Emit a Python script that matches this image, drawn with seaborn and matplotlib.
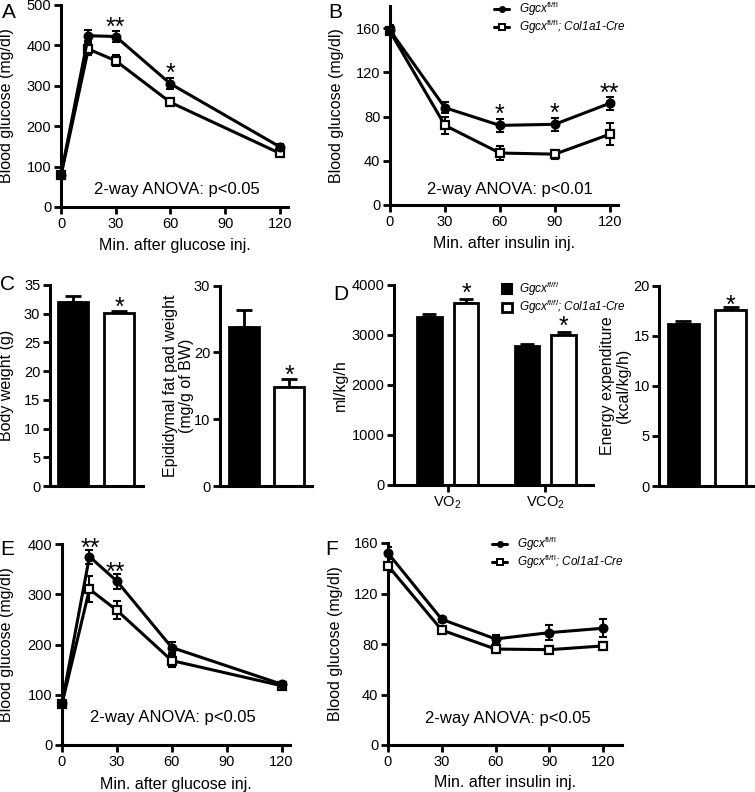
import numpy as np
import pandas as pd
import matplotlib
matplotlib.use("Agg")
import matplotlib.pyplot as plt
import seaborn as sns
from matplotlib.lines import Line2D
from matplotlib.patches import Patch

# ---------------- data ----------------
GROUPS = ["ctrl", "cre"]
t_gtt = [0, 15, 30, 60, 120]
t_itt = [0, 30, 60, 90, 120]

a_ctrl = [80, 424, 422, 305, 149]
a_ctrl_sem = [8, 14, 14, 14, 6]
a_cre = [78, 391, 362, 259, 133]
a_cre_sem = [8, 15, 14, 8, 6]

b_ctrl = [158, 88, 72, 73, 92]
b_ctrl_sem = [5, 5, 6, 6, 6]
b_cre = [157, 72, 47, 46, 64]
b_cre_sem = [5, 8, 6, 4, 10]

c_bw = [32.1, 30.1]
c_bw_sem = [0.9, 0.35]
c_fat = [23.8, 14.8]
c_fat_sem = [2.6, 1.3]

d_gas = ["VO$_2$", "VCO$_2$"]
d_vo2 = [3365, 3650]
d_vo2_sem = [60, 70]
d_vco2 = [2775, 2995]
d_vco2_sem = [45, 65]
d_ee = [16.2, 17.55]
d_ee_sem = [0.25, 0.3]

e_ctrl = [83, 375, 326, 194, 121]
e_ctrl_sem = [6, 14, 15, 10, 5]
e_cre = [82, 310, 268, 168, 118]
e_cre_sem = [6, 26, 18, 12, 5]

f_ctrl = [152, 99.5, 84, 89, 92.5]
f_ctrl_sem = [5, 2, 3, 6, 7]
f_cre = [142, 91, 76, 75.5, 78.5]
f_cre_sem = [5, 2, 3, 3, 3]

# ---------------- style ----------------
sns.set_theme(style="ticks", rc={
    "axes.edgecolor": "black", "text.color": "black", "axes.labelcolor": "black",
    "xtick.color": "black", "ytick.color": "black"})
plt.rcParams["font.family"] = ["Liberation Sans", "DejaVu Sans"]
plt.rcParams["mathtext.fontset"] = "custom"
plt.rcParams["mathtext.rm"] = "Liberation Sans"
plt.rcParams["mathtext.it"] = "Liberation Sans:italic"
plt.rcParams["mathtext.bf"] = "Liberation Sans:bold"

W, H = 755, 792
fig = plt.figure(figsize=(W / 100, H / 100), dpi=100)
fig.patch.set_facecolor("white")

BOX = {
    "A": (61, 5, 288, 207),
    "B": (390, 6, 618, 205),
    "C1": (50, 285, 143, 486),
    "C2": (220, 285.7, 312, 486),
    "D": (394, 285, 593, 485),
    "EE": (659, 285.7, 755, 486),
    "E": (62, 544, 290, 745),
    "F": (388, 543, 622, 745),
}
TICK_FS = 10.5
LAB_FS = 11.5
STAR_FS = 18


def px_axes(key):
    l, t, r, b = BOX[key]
    ax = fig.add_axes([l / W, 1 - b / H, (r - l) / W, (b - t) / H])
    ax.set_facecolor("none")
    for s in ["top", "right"]:
        ax.spines[s].set_visible(False)
    for s in ["left", "bottom"]:
        ax.spines[s].set_linewidth(2.2)
    ax.tick_params(direction="out", length=5, width=2, labelsize=TICK_FS, pad=2)
    return ax


def set_ylab(ax, key, text, right_px, ycen=0.5):
    l, t, r, b = BOX[key]
    ax.set_ylabel(text, fontsize=LAB_FS, linespacing=1.05)
    ax.yaxis.set_label_coords((right_px - l) / (r - l), ycen)


def set_xlab(ax, key, text, top_px):
    l, t, r, b = BOX[key]
    ax.set_xlabel(text, fontsize=LAB_FS)
    ax.xaxis.set_label_coords(0.5, -(top_px - b) / (b - t))


def stars(ax, items):
    for x, y, s in items:
        ax.annotate(s, (x, y), xytext=(0, -0.45 * STAR_FS), textcoords="offset points",
                    ha="center", va="baseline", fontsize=STAR_FS, annotation_clip=False)


def line_panel(key, t, ctrl, ctrl_sem, cre, cre_sem, xlim, ylim, yticks):
    ax = px_axes(key)
    for vals, sems, marker, mfc, ms, z in [(cre, cre_sem, "s", "white", 5.6, 3),
                                           (ctrl, ctrl_sem, "o", "black", 5.6, 4)]:
        ax.errorbar(t, vals, yerr=sems, fmt="none", ecolor="black", elinewidth=1.5,
                    capsize=3, capthick=1.5, zorder=z - 0.5)
        sns.lineplot(x=t, y=vals, ax=ax, color="black", lw=2.2, marker=marker, ms=ms,
                     mfc=mfc, mec="black", mew=1.6, zorder=z, clip_on=False)
    ax.set_xlim(*xlim)
    ax.set_ylim(*ylim)
    ax.set_xticks([0, 30, 60, 90, 120])
    ax.set_yticks(yticks)
    return ax


def bar_panel(key, vals, sems, xlim, ylim, yticks, width):
    ax = px_axes(key)
    df = pd.DataFrame({"g": GROUPS, "v": vals})
    sns.barplot(data=df, x="g", y="v", hue="g", palette=["black", "white"], edgecolor="black",
                linewidth=2, width=width, legend=False, errorbar=None, ax=ax, zorder=2)
    xs = [p.get_x() + p.get_width() / 2 for p in ax.patches]
    ax.errorbar(xs, vals, yerr=[np.zeros(len(vals)), sems], fmt="none", ecolor="black",
                elinewidth=2, capsize=5.5, capthick=2, zorder=1)
    ax.set_xlim(*xlim)
    ax.set_ylim(*ylim)
    ax.set_yticks(yticks)
    ax.set_xticks([])
    ax.set_xlabel("")
    return ax, xs


# ---------- A ----------
ax = line_panel("A", t_gtt, a_ctrl, a_ctrl_sem, a_cre, a_cre_sem, (0, 124.5), (0, 500),
                [0, 100, 200, 300, 400, 500])
set_ylab(ax, "A", "Blood glucose (mg/dl)", 14)
set_xlab(ax, "A", "Min. after glucose inj.", 238)
ax.text(63.5, 31.4, "2-way ANOVA: p<0.05", ha="center", va="baseline", fontsize=12)
stars(ax, [(30, 453, "**"), (60, 341, "*")])

# ---------- B ----------
ax = line_panel("B", t_itt, b_ctrl, b_ctrl_sem, b_cre, b_cre_sem, (0, 124.5), (0, 180),
                [0, 40, 80, 120, 160])
set_ylab(ax, "B", "Blood glucose (mg/dl)", 344)
set_xlab(ax, "B", "Min. after insulin inj.", 236)
ax.text(65.5, 9.7, "2-way ANOVA: p<0.01", ha="center", va="baseline", fontsize=12)
stars(ax, [(60, 85, "*"), (90, 86, "*"), (120, 104, "**")])

line_handles = [
    Line2D([], [], color="black", lw=2.2, marker="o", ms=4, mfc="black", mec="black"),
    Line2D([], [], color="black", lw=2.2, marker="s", ms=4.2, mfc="white", mec="black", mew=1.4),
]
line_labels = [r"Ggcx$^{\mathrm{fl/fl}}$", r"Ggcx$^{\mathrm{fl/fl}}$; Col1a1-Cre"]


def line_legend(x_px, top_px):
    fig.legend(line_handles, line_labels, loc="upper left",
               bbox_to_anchor=(x_px / W, 1 - top_px / H), frameon=False,
               prop={"size": 8.5, "style": "italic"}, handlelength=1.3, handletextpad=0.8,
               labelspacing=0.0, borderpad=0, borderaxespad=0)


line_legend(494, 0)

# ---------- C ----------
ax, xs = bar_panel("C1", c_bw, c_bw_sem, (-0.5, 1.52), (0, 35), [0, 5, 10, 15, 20, 25, 30, 35], 0.635)
set_ylab(ax, "C1", "Body weight (g)", 14)
stars(ax, [(xs[1], 31.8, "*")])

ax, xs = bar_panel("C2", c_fat, c_fat_sem, (-0.533, 1.51), (0, 30), [0, 10, 20, 30], 0.65)
set_ylab(ax, "C2", "Epididymal fat pad weight\n(mg/g of BW)", 194)
stars(ax, [(xs[1], 17.1, "*")])

# ---------- D ----------
ax = px_axes("D")
df_d = pd.DataFrame({
    "gas": [d_gas[0], d_gas[0], d_gas[1], d_gas[1]],
    "g": GROUPS + GROUPS,
    "v": d_vo2 + d_vco2,
})
sns.barplot(data=df_d, x="gas", y="v", hue="g", hue_order=GROUPS, palette=["black", "white"],
            edgecolor="black", linewidth=2, width=0.75, gap=0.34, legend=False, errorbar=None,
            ax=ax, zorder=2)
patches = sorted(ax.patches, key=lambda p: p.get_x())
dxs = [p.get_x() + p.get_width() / 2 for p in patches]
dvals = d_vo2 + d_vco2
dsems = d_vo2_sem + d_vco2_sem
ax.errorbar(dxs, dvals, yerr=[np.zeros(4), dsems], fmt="none", ecolor="black", elinewidth=2,
            capsize=5, capthick=2, zorder=1)
ax.set_xlim(-0.551, 1.49)
ax.set_ylim(0, 4000)
ax.set_yticks([0, 1000, 2000, 3000, 4000])
ax.set_xticks([0, 1])
ax.set_xticklabels(d_gas, fontsize=TICK_FS)
ax.set_xlabel("")
set_ylab(ax, "D", "ml/kg/h", 348)
stars(ax, [(dxs[1], 3900, "*"), (dxs[3], 3240, "*")])

bar_handles = [Patch(facecolor="black", edgecolor="black", lw=1.5),
               Patch(facecolor="white", edgecolor="black", lw=2)]
bar_labels = [r"Ggcx$^{\mathit{fl/fl}}$", r"Ggcx$^{\mathit{fl/fl}}$; Col1a1-Cre"]
fig.legend(bar_handles, bar_labels, loc="upper left", bbox_to_anchor=(502 / W, 1 - 280 / H),
           frameon=False, prop={"size": 8.5, "style": "italic"}, handlelength=0.85,
           handleheight=0.85, handletextpad=0.55, labelspacing=0.0, borderpad=0, borderaxespad=0)

ax, xs = bar_panel("EE", d_ee, d_ee_sem, (-0.52, 1.52), (0, 20), [0, 5, 10, 15, 20], 0.64)
ax.tick_params(axis="y", pad=1.5)
set_ylab(ax, "EE", "Energy expenditure\n(kcal/kg/h)", 631)
stars(ax, [(xs[1], 18.4, "*")])

# ---------- E ----------
ax = line_panel("E", t_gtt, e_ctrl, e_ctrl_sem, e_cre, e_cre_sem, (0, 124.6), (0, 400),
                [0, 100, 200, 300, 400])
set_ylab(ax, "E", "Blood glucose (mg/dl)", 14)
set_xlab(ax, "E", "Min. after glucose inj.", 777)
ax.text(60.8, 46.4, "2-way ANOVA: p<0.05", ha="center", va="baseline", fontsize=12)
stars(ax, [(15.7, 398, "**"), (29.4, 352, "**")])

# ---------- F ----------
ax = line_panel("F", t_itt, f_ctrl, f_ctrl_sem, f_cre, f_cre_sem, (0, 130.5), (0, 160),
                [0, 40, 80, 120, 160])
set_ylab(ax, "F", "Blood glucose (mg/dl)", 343)
set_xlab(ax, "F", "Min. after insulin inj.", 775)
ax.text(66.8, 17.2, "2-way ANOVA: p<0.05", ha="center", va="baseline", fontsize=12)
line_legend(492, 535)

# ---------- panel letters ----------
for letter, x, y in [("A", 2, 3), ("B", 328, 3), ("C", 0, 275), ("D", 333, 285),
                     ("E", 0, 540), ("F", 325, 540)]:
    fig.text(x / W, 1 - y / H, letter, fontsize=15, ha="left", va="top")

fig.savefig("out.png", dpi=100, facecolor="white")
